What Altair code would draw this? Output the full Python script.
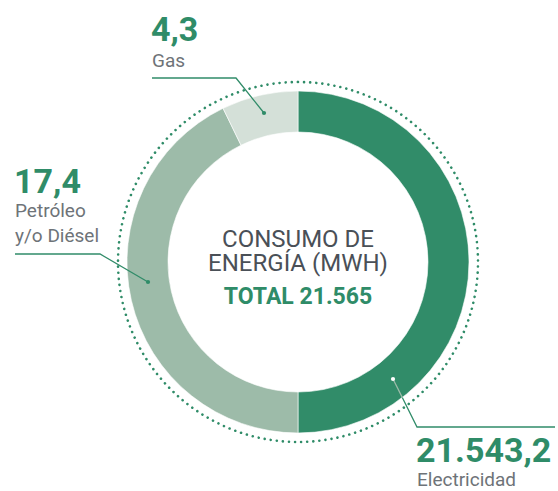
import math
import altair as alt
import pandas as pd

# ---------------- data ----------------
categories = ["Electricidad", "Petróleo\ny/o Diésel", "Gas"]
values_mwh = [21543.2, 17.4, 4.3]
# the reference draws the ring with artistic (non-proportional) sweeps
arc_sweep_deg = [180, 154, 26]
title_lines = ["CONSUMO DE", "ENERGÍA (MWH)"]
total_prefix = "TOTAL"

# ---------------- styles / layout ----------------
GREEN = "#2f8c68"
ARC_COLORS = ["#318c69", "#9dbba9", "#d4e0d8"]
LABEL_GRAY = "#6e7378"
CENTER_GRAY = "#4a5057"
FONT = "Roboto"
W, H = 558, 491
CX, CY = 298, 262
R_IN, R_OUT, R_DOT = 130, 171, 180

num_pos = [(416, 462), (14, 193), (151, 41)]
lab_pos = [(417, 486), (15, 217), (152, 67)]
leaders = [
    [(402.3, 397.5), (417, 427), (555, 427)],
    [(148, 282), (100, 254), (15, 254)],
    [(264, 113), (236, 78), (152, 78)],
]
leader_inner = [[(393, 379), (402.3, 397.5)], None, None]
dots = [(393, 379, "#ffffff"), (148, 282, GREEN), (264, 113, GREEN)]
title_baseline = 247
title_line_height = 24
total_baseline = 304


def es_num(v, decimals=1):
    s = f"{v:,.{decimals}f}"
    return s.replace(",", "X").replace(".", ",").replace("X", ".")


total = sum(values_mwh)

arcs_df = pd.DataFrame({
    "cat": categories,
    "sweep": arc_sweep_deg,
    "idx": list(range(len(categories))),
})

text_df = pd.DataFrame({
    "num": [es_num(v) for v in values_mwh],
    "lab": categories,
    "nx": [p[0] for p in num_pos],
    "ny": [p[1] for p in num_pos],
    "lx": [p[0] for p in lab_pos],
    "ly": [p[1] for p in lab_pos],
})

line_rows = []
for i, pts_ in enumerate(leaders):
    for j, (x, y) in enumerate(pts_):
        line_rows.append({"g": f"o{i}", "o": j, "x": x, "y": y, "c": "green"})
    if leader_inner[i]:
        for j, (x, y) in enumerate(leader_inner[i]):
            line_rows.append({"g": f"i{i}", "o": j, "x": x, "y": y, "c": "white"})
lines_df = pd.DataFrame(line_rows)

dots_df = pd.DataFrame({"x": [d[0] for d in dots], "y": [d[1] for d in dots], "c": [d[2] for d in dots]})

title_df = pd.DataFrame({"t": ["\n".join(title_lines)], "y": [title_baseline]})
total_df = pd.DataFrame({"t": [f"{total_prefix} {es_num(total, 0)}"], "y": [total_baseline]})

xs = alt.Scale(domain=[0, W], range=[0, W])
ys = alt.Scale(domain=[0, H], range=[0, H])

ring = alt.Chart(arcs_df).mark_arc(
    innerRadius=R_IN, outerRadius=R_OUT, x=CX, y=CY, stroke="#ffffff", strokeWidth=0.6
).encode(
    theta=alt.Theta("sweep:Q", stack=True, scale=alt.Scale(domain=[0, 360], range=[0, 2 * math.pi])),
    color=alt.Color("cat:N", scale=alt.Scale(domain=categories, range=ARC_COLORS), legend=None),
    order=alt.Order("idx:Q"),
)

dotted = alt.Chart(pd.DataFrame({"a": [0]})).mark_arc(
    innerRadius=0, outerRadius=R_DOT, x=CX, y=CY, fillOpacity=0,
    stroke=GREEN, strokeWidth=2.6, strokeDash=[0.01, 6.1], strokeCap="round",
).encode(theta=alt.value(0), theta2=alt.value(2 * math.pi))

lines = alt.Chart(lines_df).mark_line(strokeWidth=1.3).encode(
    x=alt.X("x:Q", scale=xs, axis=None),
    y=alt.Y("y:Q", scale=ys, axis=None),
    detail="g:N",
    order="o:Q",
    color=alt.Color("c:N", scale=alt.Scale(domain=["green", "white"], range=[GREEN, "#ffffff"]), legend=None),
)

pts = alt.Chart(dots_df).mark_circle(size=18, opacity=1).encode(
    x=alt.X("x:Q", scale=xs, axis=None),
    y=alt.Y("y:Q", scale=ys, axis=None),
    color=alt.Color("c:N", scale=None),
)

nums = alt.Chart(text_df).mark_text(
    align="left", baseline="alphabetic", font=FONT, fontSize=34, fontWeight="bold", color=GREEN
).encode(x=alt.X("nx:Q", scale=xs, axis=None), y=alt.Y("ny:Q", scale=ys, axis=None), text="num:N")

labs = alt.Chart(text_df).mark_text(
    align="left", baseline="alphabetic", font=FONT, fontSize=19, color=LABEL_GRAY,
    lineBreak="\n", lineHeight=25,
).encode(x=alt.X("lx:Q", scale=xs, axis=None), y=alt.Y("ly:Q", scale=ys, axis=None), text="lab:N")

title_txt = alt.Chart(title_df).mark_text(
    align="center", baseline="alphabetic", font=FONT, fontSize=24, color=CENTER_GRAY,
    lineBreak="\n", lineHeight=title_line_height,
).encode(x=alt.value(CX), y=alt.Y("y:Q", scale=ys, axis=None), text="t:N")

total_txt = alt.Chart(total_df).mark_text(
    align="center", baseline="alphabetic", font=FONT, fontSize=23, fontWeight="bold", color=GREEN,
).encode(x=alt.value(CX), y=alt.Y("y:Q", scale=ys, axis=None), text="t:N")

chart = alt.layer(ring, dotted, lines, pts, nums, labs, title_txt, total_txt).properties(
    width=W, height=H, autosize=alt.AutoSizeParams(type="none"), padding=0,
    background="#ffffff",
).configure_view(stroke=None)

chart.save("out.html", embed_options={"renderer": "svg", "actions": False})
